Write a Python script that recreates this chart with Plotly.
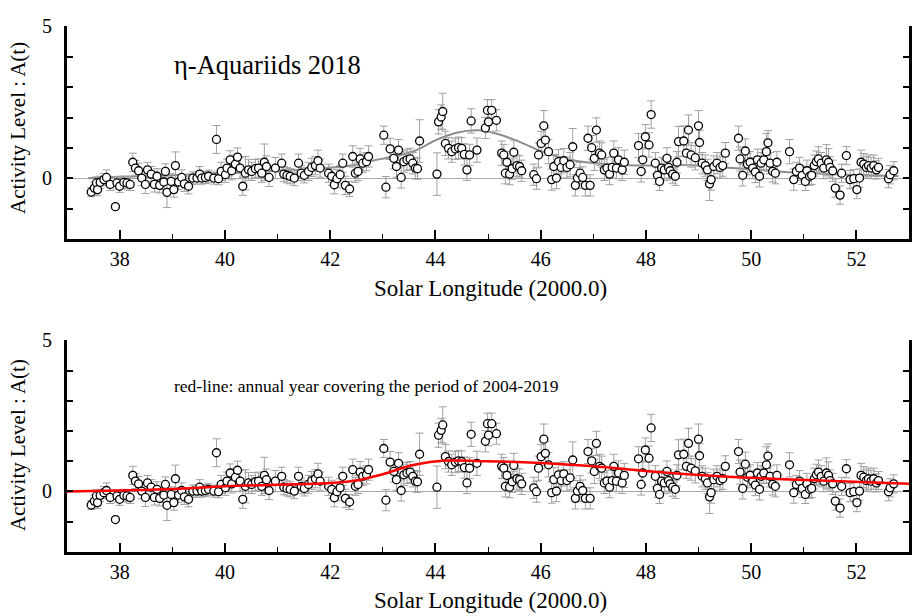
import plotly.graph_objects as go

# ---------------- data ----------------
sol_long = [
    37.46, 37.52, 37.56, 37.58, 37.63, 37.70, 37.75, 37.82, 37.92, 37.95,
    38.00, 38.08, 38.14, 38.20, 38.25, 38.30, 38.36, 38.42, 38.49, 38.53,
    38.60, 38.66, 38.71, 38.76, 38.84, 38.87, 38.90, 38.98, 39.03, 39.06,
    39.12, 39.18, 39.23, 39.31, 39.39, 39.47, 39.52, 39.56, 39.63, 39.69,
    39.79, 39.84, 39.88, 39.93, 40.01, 40.04, 40.10, 40.13, 40.20, 40.24,
    40.29, 40.34, 40.39, 40.45, 40.51, 40.58, 40.64, 40.70, 40.75, 40.79,
    40.84, 40.96,
    41.08, 41.12, 41.18, 41.24, 41.32, 41.40, 41.45, 41.51, 41.59, 41.65,
    41.72, 41.77, 41.81, 41.97, 42.03, 42.08, 42.13, 42.19, 42.24, 42.29,
    42.37, 42.43, 42.48, 42.53, 42.57, 42.62, 42.69, 42.73, 43.02, 43.06,
    43.14, 43.21, 43.26, 43.30, 43.35, 43.40, 43.46, 43.52, 43.57, 43.62,
    43.66, 43.70, 44.03, 44.06, 44.11, 44.14, 44.19, 44.25, 44.31, 44.38,
    44.44, 44.50, 44.55, 44.60, 44.65, 44.68, 44.79, 44.95, 44.99,
    45.01, 45.07, 45.16, 45.26, 45.30, 45.33, 45.36, 45.41, 45.46, 45.49,
    45.55, 45.60, 45.64, 45.87, 45.92, 45.96, 46.01, 46.06, 46.09, 46.15,
    46.21, 46.25, 46.30, 46.34, 46.39, 46.44, 46.50, 46.56, 46.61, 46.66,
    46.70, 46.75, 46.80, 46.85, 46.90, 46.94, 46.97, 47.02, 47.06, 47.12,
    47.16, 47.21, 47.26, 47.31, 47.36, 47.39, 47.44, 47.48, 47.55, 47.59,
    47.86, 47.91, 47.94, 47.99, 48.06, 48.10, 48.18, 48.22, 48.26, 48.30,
    48.35, 48.40, 48.43, 48.46, 48.51, 48.56, 48.59, 48.62, 48.72, 48.77,
    48.81, 48.86, 48.94,
    49.00, 49.02, 49.07, 49.13, 49.17, 49.21, 49.24, 49.29, 49.35, 49.41,
    49.46, 49.51, 49.76, 49.79, 49.84, 49.89, 49.93, 49.98, 50.03, 50.08,
    50.12, 50.16, 50.19, 50.24, 50.29, 50.32, 50.36, 50.41, 50.46, 50.49,
    50.73, 50.81, 50.86, 50.92, 50.97, 51.03, 51.06, 51.11, 51.15, 51.20,
    51.24, 51.28, 51.33, 51.38, 51.43, 51.47, 51.50, 51.55, 51.60, 51.69,
    51.72, 51.81, 51.88, 51.95, 52.01, 52.06, 52.09, 52.14, 52.19, 52.23,
    52.28, 52.33, 52.38, 52.42, 52.61, 52.64, 52.71,
]
activity = [
    -0.45, -0.32, -0.15, -0.37, -0.13, -0.04, 0.03, -0.20, -0.93, -0.15,
    -0.26, -0.13, -0.15, -0.20, 0.53, 0.34, 0.25, 0.01, -0.20, 0.28,
    0.14, -0.20, 0.07, -0.23, -0.12, 0.23, -0.46, -0.10, -0.37, 0.42,
    -0.12, 0.03, -0.18, -0.26, 0.01, 0.01, 0.14, 0.01, 0.03, 0.07,
    0.01, 1.28, -0.01, 0.23, 0.12, 0.34, 0.61, 0.25, 0.47, 0.70,
    0.34, -0.26, 0.17, 0.28, 0.23, 0.32, 0.34, 0.17, 0.53, 0.39,
    0.03, 0.34,
    0.50, 0.14, 0.10, 0.07, 0.01, 0.50, 0.17, 0.10, 0.23, 0.36,
    0.42, 0.58, 0.34, 0.17, 0.07, -0.21, -0.01, 0.12, 0.50, -0.23,
    -0.35, 0.72, 0.17, 0.23, 0.64, 0.50, 0.55, 0.72, 1.42, -0.29,
    0.97, 0.66, 0.39, 0.93, 0.03, 0.55, 0.61, 0.64, 0.50, 0.34,
    0.32, 1.23, 0.14, 1.86, 2.02, 2.20, 1.15, 0.99, 0.88, 0.97,
    1.01, 0.99, 0.79, 0.28, 0.77, 1.89, 0.93, 1.66, 2.24,
    1.86, 2.24, 1.91, 0.83, 0.77, 0.17, 0.53, 0.14, 0.32, 0.86,
    0.42, 0.39, 0.25, 0.12, -0.01, 0.77, 1.15, 1.73, 1.26, 0.88,
    -0.04, 0.39, 0.01, 0.55, 0.36, 0.58, 0.36, 0.45, 1.04, -0.23,
    0.01, 0.17, 0.03, -0.23, 1.32, -0.23, 1.01, 0.66, 1.59, 0.83,
    0.77, 0.28, 0.34, 0.14, 0.36, 0.83, 0.34, 0.61, 0.28, 0.53,
    1.08, 0.23, 0.61, 1.37, 1.10, 2.10, 0.50, 0.10, -0.10, 0.34,
    0.28, 0.66, 0.36, 0.25, 0.14, 0.07, 0.53, 1.21, 1.23, 0.83,
    1.59, 0.77, 0.68,
    1.73, 1.18, 0.50, 0.42, 0.28, -0.18, -0.04, 0.39, 0.50, 0.36,
    0.42, 0.83, 1.32, 0.64, 0.10, 0.90, 0.47, 0.53, 0.34, 0.21,
    0.61, 0.07, 0.50, 0.61, 0.88, 1.17, 0.50, 0.23, 0.17, 0.53,
    0.88, -0.04, 0.23, 0.34, 0.10, -0.10, 0.25, 0.07, 0.10, 0.42,
    0.55, 0.64, 0.50, 0.34, 0.61, 0.53, 0.36, 0.25, -0.32, -0.55,
    0.17, 0.75, -0.04, -0.01, -0.37, 0.01, 0.53, 0.47, 0.36, 0.42,
    0.34, 0.42, 0.28, 0.36, -0.01, 0.12, 0.25,
]
error = [
    0.15, 0.20, 0.20, 0.20, 0.20, 0.20, 0.25, 0.20, 0.05, 0.20,
    0.20, 0.20, 0.20, 0.20, 0.30, 0.25, 0.25, 0.25, 0.30, 0.25,
    0.25, 0.25, 0.25, 0.25, 0.25, 0.25, 0.50, 0.25, 0.25, 0.45,
    0.25, 0.25, 0.25, 0.25, 0.20, 0.20, 0.25, 0.20, 0.20, 0.20,
    0.20, 0.46, 0.20, 0.30, 0.25, 0.30, 0.30, 0.30, 0.30, 0.30,
    0.35, 0.30, 0.55, 0.35, 0.30, 0.30, 0.30, 0.30, 0.60, 0.35,
    0.30, 0.35,
    0.30, 0.25, 0.25, 0.25, 0.25, 0.30, 0.25, 0.25, 0.30, 0.30,
    0.30, 0.35, 0.30, 0.30, 0.30, 0.30, 0.30, 0.30, 0.30, 0.30,
    0.25, 0.35, 0.30, 0.30, 0.35, 0.30, 0.30, 0.35, 0.30, 0.35,
    0.35, 0.35, 0.35, 0.35, 0.35, 0.35, 0.35, 0.35, 0.35, 0.35,
    0.35, 0.70, 0.70, 0.40, 0.40, 0.60, 0.40, 0.35, 0.35, 0.35,
    0.35, 0.35, 0.35, 0.35, 0.35, 0.40, 0.40, 0.35, 0.35,
    0.35, 0.35, 0.35, 0.40, 0.35, 0.35, 0.35, 0.35, 0.35, 0.40,
    0.35, 0.35, 0.35, 0.35, 0.35, 0.40, 0.40, 0.50, 0.40, 0.40,
    0.35, 0.40, 0.35, 0.40, 0.35, 0.40, 0.35, 0.40, 0.60, 0.35,
    0.35, 0.35, 0.35, 0.35, 0.40, 0.35, 0.40, 0.40, 0.40, 0.40,
    0.40, 0.35, 0.35, 0.35, 0.35, 0.40, 0.35, 0.40, 0.35, 0.40,
    0.40, 0.35, 0.40, 0.40, 0.40, 0.45, 0.35, 0.30, 0.30, 0.35,
    0.35, 0.35, 0.35, 0.30, 0.30, 0.30, 0.35, 0.50, 0.50, 0.40,
    0.50, 0.40, 0.40,
    0.50, 0.40, 0.35, 0.35, 0.35, 0.55, 0.35, 0.35, 0.35, 0.35,
    0.35, 0.35, 0.40, 0.40, 0.35, 0.40, 0.35, 0.35, 0.35, 0.35,
    0.35, 0.35, 0.35, 0.35, 0.60, 0.40, 0.35, 0.35, 0.35, 0.35,
    0.40, 0.35, 0.30, 0.35, 0.30, 0.30, 0.35, 0.30, 0.30, 0.35,
    0.35, 0.40, 0.35, 0.35, 0.50, 0.45, 0.35, 0.35, 0.30, 0.30,
    0.30, 0.30, 0.30, 0.30, 0.30, 0.30, 0.40, 0.35, 0.35, 0.35,
    0.35, 0.35, 0.30, 0.30, 0.30, 0.30, 0.30,
]

# smoothed 2018 profile (grey, upper panel)
fit_x = [37.4, 38.0, 39.0, 40.0, 41.0, 41.8, 42.4, 42.8, 43.2, 43.6, 44.0, 44.4,
         44.8, 45.2, 45.6, 46.0, 46.4, 46.9, 47.5, 48.0, 48.5, 49.0, 49.5, 50.0,
         50.5, 51.0, 51.5, 52.0, 52.8]
fit_y = [0.00, 0.05, 0.10, 0.18, 0.25, 0.32, 0.42, 0.58, 0.72, 0.90, 1.25, 1.50,
         1.58, 1.45, 1.20, 0.90, 0.68, 0.52, 0.45, 0.42, 0.45, 0.42, 0.36, 0.30,
         0.23, 0.18, 0.14, 0.11, 0.08]

# annual mean profile 2004-2019 (red, lower panel)
ann_x = [37.0, 38.0, 39.0, 40.0, 41.0, 42.0, 42.5, 43.0, 43.6, 44.2, 44.9, 45.9,
         46.8, 47.5, 48.1, 49.4, 50.4, 51.3, 53.0]
ann_y = [0.00, 0.03, 0.08, 0.17, 0.22, 0.28, 0.36, 0.57, 0.88, 1.02, 1.00, 0.95,
         0.86, 0.76, 0.66, 0.50, 0.42, 0.36, 0.25]

x_tick_vals = [38, 40, 42, 44, 46, 48, 50, 52]
y_tick_vals = [-2, -1, 0, 1, 2, 3, 4, 5]
y_tick_text = ["", "", "0", "", "", "", "", "5"]

FONT = "'Times New Roman', 'Liberation Serif', Times, serif"
W, H = 923, 616

fig = go.Figure()


def data_trace(xa, ya):
    return go.Scatter(
        x=sol_long, y=activity, mode="markers", xaxis=xa, yaxis=ya,
        marker=dict(symbol="circle", size=8, color="white",
                    line=dict(color="black", width=1.3)),
        error_y=dict(type="data", array=error, visible=True,
                     color="#a0a0a0", thickness=1, width=4),
        showlegend=False, hoverinfo="skip",
    )


# upper panel
fig.add_trace(go.Scatter(x=fit_x, y=fit_y, mode="lines", line_shape="spline",
                         line=dict(color="#8c8c8c", width=2),
                         xaxis="x", yaxis="y", showlegend=False))
fig.add_trace(data_trace("x", "y"))

# lower panel
fig.add_trace(data_trace("x2", "y2"))
fig.add_trace(go.Scatter(x=ann_x, y=ann_y, mode="lines", line_shape="spline",
                         line=dict(color="#ff0000", width=2.5),
                         xaxis="x2", yaxis="y2", showlegend=False))

x_dom = [67 / W, 909 / W]
top_dom = [1 - 232.3 / H, 1 - 15.7 / H]
bot_dom = [1 - 550.7 / H, 1 - 335.3 / H]


def xaxis(domain_anchor):
    return dict(
        domain=x_dom, anchor=domain_anchor, range=[37, 53],
        tickmode="array", tickvals=x_tick_vals, ticks="inside", ticklen=9,
        tickwidth=1.5, tickcolor="black",
        minor=dict(tickmode="array", tickvals=list(range(37, 54)),
                   ticks="inside", ticklen=5, tickwidth=1.2, tickcolor="black"),
        showline=True, linecolor="black", linewidth=3, mirror=False,
        showgrid=False, zeroline=False,
        tickfont=dict(family=FONT, size=20, color="black"),
    )


def yaxis(dom, anchor):
    return dict(
        domain=dom, anchor=anchor, range=[-2, 5],
        tickmode="array", tickvals=y_tick_vals, ticktext=y_tick_text,
        ticks="inside", ticklen=6, tickwidth=1.5, tickcolor="black",
        showline=True, linecolor="black", linewidth=3, mirror="ticks",
        showgrid=False, zeroline=True, zerolinecolor="#a8a8a8", zerolinewidth=1,
        tickfont=dict(family=FONT, size=20, color="black"),
        ticklabelstandoff=8,
    )


fig.update_layout(
    width=W, height=H, margin=dict(l=0, r=0, t=0, b=0),
    paper_bgcolor="white", plot_bgcolor="white",
    font=dict(family=FONT, color="black"),
    xaxis=xaxis("y"), yaxis=yaxis(top_dom, "x"),
    xaxis2=xaxis("y2"), yaxis2=yaxis(bot_dom, "x2"),
)

ann = [
    dict(text="η-Aquariids 2018", x=172 / W, y=1 - 55 / H, xanchor="left",
         yanchor="middle", font=dict(size=26.5)),
    dict(text="red-line: annual year covering the period of 2004-2019",
         x=172 / W, y=1 - 382 / H, xanchor="left", yanchor="middle",
         font=dict(size=17.5)),
    dict(text="Solar Longitude (2000.0)", x=490 / W, y=1 - 283 / H,
         xanchor="center", yanchor="middle", font=dict(size=23)),
    dict(text="Solar Longitude (2000.0)", x=490 / W, y=1 - 600 / H,
         xanchor="center", yanchor="middle", font=dict(size=23)),
    dict(text="Activity Level : A(t)", x=18 / W, y=1 - 119 / H, textangle=-90,
         xanchor="center", yanchor="middle", font=dict(size=21)),
    dict(text="Activity Level : A(t)", x=18 / W, y=1 - 442 / H, textangle=-90,
         xanchor="center", yanchor="middle", font=dict(size=21)),
]
for a in ann:
    a.update(xref="paper", yref="paper", showarrow=False)
    a["font"]["family"] = FONT
    a["font"]["color"] = "black"
fig.update_layout(annotations=ann)

fig.write_html("out.html")
